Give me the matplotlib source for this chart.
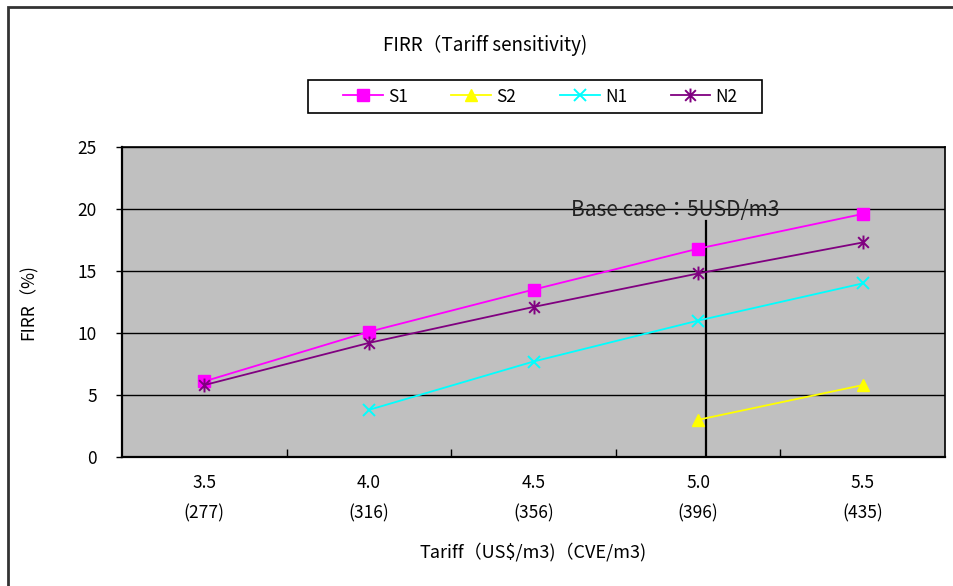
import matplotlib
matplotlib.use("Agg")
import matplotlib.pyplot as plt
from matplotlib.path import Path
from matplotlib.patches import Rectangle

plt.rcParams['font.family'] = ['Noto Sans CJK JP', 'DejaVu Sans']

# data
tariff_usd = ["3.5", "4.0", "4.5", "5.0", "5.5"]
tariff_cve = ["277", "316", "356", "396", "435"]
s1 = [6.1, 10.1, 13.5, 16.8, 19.6]
s2 = [None, None, None, 3.0, 5.8]
n1 = [None, 3.8, 7.7, 11.0, 14.0]
n2 = [5.8, 9.2, 12.1, 14.8, 17.3]
base_case_x = 3.05      # position of the base case marker line (category units)
base_case_top = 19.0

# asterisk marker like Excel's star: an x with a vertical stroke
star = Path([(-1, -1), (1, 1), (-1, 1), (1, -1), (0, -1.3), (0, 1.3)],
            [Path.MOVETO, Path.LINETO, Path.MOVETO, Path.LINETO, Path.MOVETO, Path.LINETO])

W, H = 954, 586
fig = plt.figure(figsize=(W / 100, H / 100), dpi=100)
# outer frame, only top/left edges visible in the reference
fig.patches.append(Rectangle((8 / W, -0.1), 1.2, 1 - 7 / H + 0.1, transform=fig.transFigure,
                             fill=False, ec="#333333", lw=2.0))

ax = fig.add_axes([122 / W, 129 / H, 823 / W, 310 / H])
ax.set_facecolor("#C0C0C0")
x = list(range(len(tariff_usd)))


def pts(vals):
    xs = [i for i, v in zip(x, vals) if v is not None]
    ys = [v for v in vals if v is not None]
    return xs, ys


ax.plot(*pts(s1), color="#FF00FF", marker="s", ms=9, lw=1.3, label="S1", zorder=4)
ax.plot(*pts(s2), color="#FFFF00", marker="^", ms=9, lw=1.3, label="S2", zorder=4)
ax.plot(*pts(n1), color="#00FFFF", marker="x", ms=9, mew=1.4, lw=1.3, label="N1", zorder=4)
ax.plot(*pts(n2), color="#800080", marker=star, ms=10, mew=1.4, lw=1.3, label="N2", zorder=4)

ax.plot([base_case_x, base_case_x], [0, base_case_top], color="black", lw=1.6, zorder=3)
ax.text(2.86, 19.95, "Base case：5USD/m3", ha="center", va="center", fontsize=15,
        color="#222222", zorder=5)

ax.set_xlim(-0.5, 4.5)
ax.set_ylim(0, 25)
ax.set_yticks([0, 5, 10, 15, 20, 25])
ax.set_xticks(x)
ax.set_xticklabels([f"{a}\n({b})" for a, b in zip(tariff_usd, tariff_cve)], fontsize=12.5,
                   linespacing=1.9)
ax.set_xticks([0.5, 1.5, 2.5, 3.5], minor=True)
ax.tick_params(axis="x", which="major", length=0, pad=12)
ax.tick_params(axis="x", which="minor", direction="in", length=6, width=1)
ax.tick_params(axis="y", length=4, width=1, labelsize=12.5, pad=14)
ax.yaxis.grid(True, color="black", lw=1.0)
ax.set_axisbelow(True)
for s in ax.spines.values():
    s.set_color("black")
    s.set_linewidth(1.2)
ax.spines["left"].set_linewidth(1.6)
ax.spines["bottom"].set_linewidth(1.6)

ax.set_ylabel("FIRR（%)", fontsize=12.5, labelpad=29)
ax.set_xlabel("Tariff（US$/m3)（CVE/m3)", fontsize=13, labelpad=14)

fig.text(485 / W, 1 - 45 / H, "FIRR（Tariff sensitivity)", ha="center", va="center", fontsize=13.5)

# legend box drawn by hand so its padding matches the reference
fig.patches.append(Rectangle((308 / W, 1 - 113 / H), 454 / W, 33 / H, transform=fig.transFigure,
                             fill=False, ec="black", lw=1.2, zorder=5))
fig.legend(loc="center left", bbox_to_anchor=(343 / W, 1 - 96.5 / H), ncol=4, fontsize=12.5,
           frameon=False, columnspacing=2.5, handlelength=2.3, borderpad=0,
           borderaxespad=0, handletextpad=0.3)

fig.savefig("out.png", dpi=100)
